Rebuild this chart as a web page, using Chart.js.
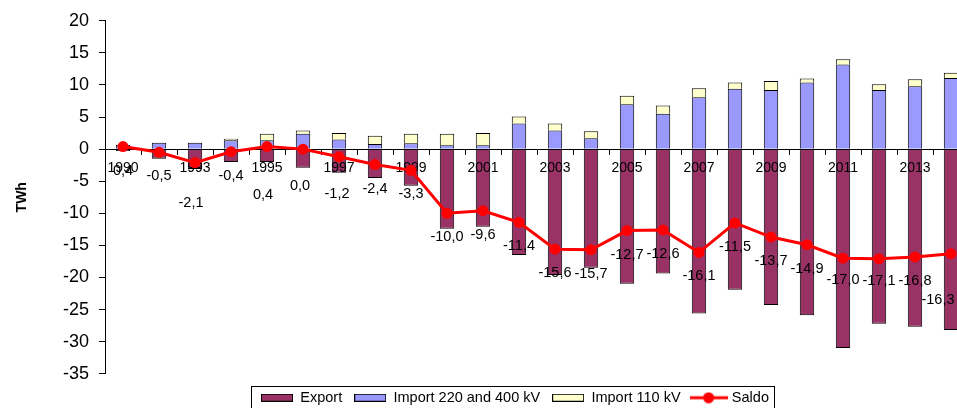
<!DOCTYPE html>
<html>
<head>
<meta charset="utf-8">
<script src="https://cdn.jsdelivr.net/npm/chart.js@4.4.0/dist/chart.umd.min.js"></script>
<style>
  html, body { margin: 0; padding: 0; background: #fff; overflow: hidden; }
  #wrap { position: relative; width: 957px; height: 408px; overflow: hidden; }
  #c { position: absolute; left: 0; top: 0; }
</style>
</head>
<body>
<div id="wrap"><canvas id="c" width="1030" height="415"></canvas></div>
<script>
// Years on the category axis
const years = ['1990', '1992', '1993', '1994', '1995', '1996', '1997', '1998', '1999', '2000',
  '2001', '2002', '2003', '2004', '2005', '2006', '2007', '2008', '2009', '2010',
  '2011', '2012', '2013', '2014'];

// Cross-border electricity flows, TWh
const exportTWh = [-0.3, -1.5, -3.1, -2.0, -2.0, -2.9, -3.7, -4.5, -5.7, -12.4,
  -12.1, -16.5, -19.6, -18.5, -21.0, -19.4, -25.6, -21.9, -24.3, -25.9,
  -31.0, -27.2, -27.7, -28.2];
const import220_400 = [0.7, 1.0, 1.0, 1.4, 1.4, 2.4, 1.5, 0.8, 0.9, 0.6,
  0.6, 4.0, 2.9, 1.7, 7.0, 5.5, 8.1, 9.4, 9.2, 10.4,
  13.2, 9.2, 9.8, 11.1];
const import110 = [0.0, 0.0, 0.0, 0.2, 1.0, 0.5, 1.0, 1.3, 1.5, 1.8,
  1.9, 1.1, 1.1, 1.1, 1.3, 1.3, 1.4, 1.0, 1.4, 0.6,
  0.8, 0.9, 1.1, 0.8];
const saldo = [0.4, -0.5, -2.1, -0.4, 0.4, 0.0, -1.2, -2.4, -3.3, -10.0,
  -9.6, -11.4, -15.6, -15.7, -12.7, -12.6, -16.1, -11.5, -13.7, -14.9,
  -17.0, -17.1, -16.8, -16.3];

// Value axis range
const yMin = -35, yMax = 20, yStep = 5;

// Placement of the balance labels relative to their points (px)
const labelDy = [24, 24, 40, 24, 48, 37, 37, 24, 24, 24, 24, 24, 24, 24, 24, 24, 24, 24, 24, 24, 22, 22, 24, 46];
const labelDx = [0, 0, -4, 0, -4, -3, -2, 0, 0, 0, 0, 0, 0, 0, 0, 0, 0, 0, 0, 0, 0, 0, 0, -13];

const COLORS = { export: '#993366', imp220: '#9999FF', imp110: '#FFFFCC', saldo: '#FF0000' };
const SALDO_INDEX = 3;

Chart.defaults.font.family = '"Liberation Sans", Arial, sans-serif';
Chart.defaults.color = '#000';

// Legend symbols
function swatch(color) {
  const cv = document.createElement('canvas');
  cv.width = 32; cv.height = 8;
  const g = cv.getContext('2d');
  g.fillStyle = color; g.fillRect(0, 0, 32, 8);
  g.strokeStyle = '#000'; g.lineWidth = 1; g.strokeRect(0.5, 0.5, 31, 7);
  return cv;
}
function lineMarker(color) {
  const cv = document.createElement('canvas');
  cv.width = 38; cv.height = 12;
  const g = cv.getContext('2d');
  g.strokeStyle = color; g.lineWidth = 3;
  g.beginPath(); g.moveTo(0, 6); g.lineTo(38, 6); g.stroke();
  g.fillStyle = color; g.beginPath(); g.arc(19, 6, 5.5, 0, Math.PI * 2); g.fill();
  return cv;
}

// The balance line is painted last, above the year labels, followed by its value labels
const saldoOnTop = {
  id: 'saldoOnTop',
  beforeDatasetDraw(chart, args) {
    if (args.index === SALDO_INDEX) return false;
  },
  afterDraw(chart) {
    const meta = chart.getDatasetMeta(SALDO_INDEX);
    meta.controller.draw();
    const ctx = chart.ctx;
    ctx.save();
    ctx.font = '14.5px "Liberation Sans", Arial, sans-serif';
    ctx.fillStyle = '#000';
    ctx.textAlign = 'center';
    ctx.textBaseline = 'middle';
    meta.data.forEach((pt, i) => {
      const txt = saldo[i].toFixed(1).replace('.', ',');
      ctx.fillText(txt, pt.x + labelDx[i], pt.y + labelDy[i]);
    });
    ctx.restore();
  }
};

// Frame around the legend row
const legendFrame = {
  id: 'legendFrame',
  afterDraw(chart) {
    const lg = chart.legend;
    if (!lg || !lg.legendHitBoxes || !lg.legendHitBoxes.length) return;
    const boxes = lg.legendHitBoxes;
    const first = boxes[0], last = boxes[boxes.length - 1];
    const cy = first.top + first.height / 2;
    const left = Math.round(first.left - 10) + 0.5;
    const right = Math.round(last.left + last.width + 5) + 0.5;
    const top = Math.round(cy - 12) + 0.5;
    const ctx = chart.ctx;
    ctx.save();
    ctx.strokeStyle = '#000';
    ctx.lineWidth = 1;
    ctx.strokeRect(left, top, right - left, 26);
    ctx.restore();
  }
};

new Chart(document.getElementById('c'), {
  data: {
    labels: years,
    datasets: [
      { type: 'bar', label: 'Export', data: exportTWh, yAxisID: 'y', backgroundColor: COLORS.export,
        borderColor: '#000', borderWidth: 1, barPercentage: 0.4, categoryPercentage: 1.0 },
      { type: 'bar', label: 'Import 220 and 400 kV', data: import220_400, yAxisID: 'y', backgroundColor: COLORS.imp220,
        borderColor: '#000', borderWidth: 1, barPercentage: 0.4, categoryPercentage: 1.0 },
      { type: 'bar', label: 'Import 110 kV', data: import110, yAxisID: 'y', backgroundColor: COLORS.imp110,
        borderColor: '#000', borderWidth: 1, barPercentage: 0.4, categoryPercentage: 1.0 },
      { type: 'line', label: 'Saldo', data: saldo, yAxisID: 'y', stack: 'saldo', order: -1,
        borderColor: COLORS.saldo, borderWidth: 3, tension: 0,
        pointRadius: 5.5, pointBackgroundColor: COLORS.saldo, pointBorderWidth: 0 }
    ]
  },
  options: {
    responsive: false,
    devicePixelRatio: 1,
    animation: false,
    events: [],
    layout: { padding: { top: 17, right: 0, left: 0, bottom: 0 } },
    scales: {
      x: {
        type: 'category',
        stacked: true,
        position: { y: 0 },
        offset: true,
        grid: { display: true, drawOnChartArea: false, drawTicks: true, tickLength: 5, offset: true, color: '#000' },
        border: { display: true, color: '#000', width: 1, z: 1 },
        ticks: {
          z: 1,
          autoSkip: false, maxRotation: 0, minRotation: 0, padding: 6,
          font: { size: 14 },
          callback(value, index) { return index % 2 === 0 ? this.getLabelForValue(value) : ''; }
        }
      },
      y: {
        stacked: true,
        min: yMin, max: yMax,
        grid: { drawOnChartArea: false, drawTicks: true, tickLength: 6, color: '#000' },
        border: { display: true, color: '#000', width: 1 },
        ticks: { stepSize: yStep, font: { size: 18 }, padding: 10 },
        title: { display: true, text: 'TWh', font: { size: 14, weight: 'bold' }, padding: { top: 14, bottom: 0 } },
        afterFit(scale) { scale.width = 105; }
      },
      // empty right-hand margin beside the plot
      yRight: {
        type: 'linear',
        position: 'right',
        min: yMin, max: yMax,
        grid: { display: false },
        border: { display: false },
        ticks: { display: false },
        afterFit(scale) { scale.width = 61; }
      }
    },
    plugins: {
      tooltip: { enabled: false },
      legend: {
        position: 'bottom',
        title: { display: true, text: ' ', font: { size: 4 }, padding: 0 },
        labels: {
          usePointStyle: true,
          pointStyleWidth: 32,
          boxWidth: 32,
          boxHeight: 8,
          padding: 12,
          font: { size: 14.5 },
          generateLabels(chart) {
            return chart.data.datasets.map((ds, i) => ({
              text: ds.label,
              datasetIndex: i,
              hidden: false,
              fontColor: '#000',
              lineWidth: 0,
              pointStyle: ds.type === 'line' ? lineMarker(COLORS.saldo) : swatch(ds.backgroundColor)
            }));
          }
        }
      }
    }
  },
  plugins: [saldoOnTop, legendFrame]
});
</script>
</body>
</html>
